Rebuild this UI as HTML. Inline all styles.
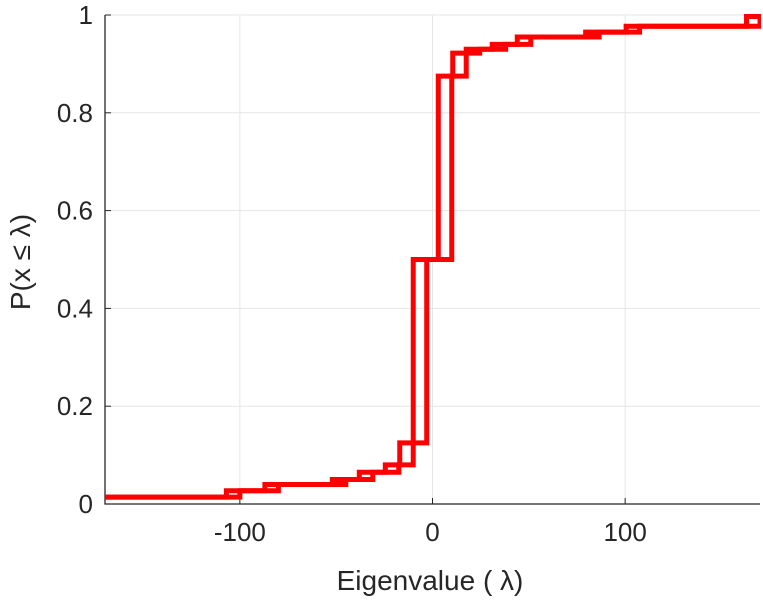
<!DOCTYPE html>
<html><head><meta charset="utf-8"><style>
html,body{margin:0;padding:0;background:#fff;}
svg{display:block;font-family:"Liberation Sans",sans-serif;}
</style></head><body>
<svg id="chart" width="763" height="600" viewBox="0 0 763 600" xmlns="http://www.w3.org/2000/svg">
<defs><clipPath id="pc"><rect x="105" y="10" width="656" height="496"/></clipPath></defs>
<g id="grid"></g>
<g id="axes"></g>
<g id="series" clip-path="url(#pc)"></g>
<text x="430" y="590" font-size="28" text-anchor="middle" fill="#262626">Eigenvalue (   λ)</text>
<text transform="translate(30,262) rotate(-90)" font-size="28" text-anchor="middle" fill="#262626">P(x  ≤  λ)</text>
</svg>
<script>
const jumps = [-107,-87,-52,-38,-24.5,-17,-10,3,10.5,17.5,31,44,79.5,100.5,163];
const levels = [0.027,0.04,0.05,0.065,0.08,0.125,0.5,0.875,0.922,0.93,0.94,0.955,0.965,0.977,0.997];
const startLevel = 0.014;
const shift = 7;
const xTicks = [-100,0,100];
const yTicks = [0,0.2,0.4,0.6,0.8,1];
const yTickLabels = ["0","0.2","0.4","0.6","0.8","1"];

const X0=105,X1=760,Y0=504,Y1=15,xmin=-170,xmax=170;
const sx=v=>X0+(v-xmin)/(xmax-xmin)*(X1-X0);
const sy=v=>Y0-(v)*(Y0-Y1);
const NS="http://www.w3.org/2000/svg";
function mk(tag,attrs,parent){const e=document.createElementNS(NS,tag);for(const k in attrs)e.setAttribute(k,attrs[k]);parent.appendChild(e);return e;}
const grid=document.getElementById('grid'),axes=document.getElementById('axes'),series=document.getElementById('series');
xTicks.forEach(t=>{
  const l=mk('line',{x1:sx(t),x2:sx(t),y1:Y1,y2:Y0,stroke:'#e6e6e6','stroke-width':1},grid);
  
  
  const tk=mk('line',{x1:sx(t),x2:sx(t),y1:Y0,y2:Y0-6,stroke:'#262626','stroke-width':1},axes);
  
  
  const tx=mk('text',{x:sx(t),y:Y0+37,'font-size':26,'text-anchor':'middle',fill:'#262626'},axes);
  tx.textContent=String(t);
  
  
});
yTicks.forEach((t,i)=>{
  const l=mk('line',{x1:X0,x2:X1,y1:sy(t),y2:sy(t),stroke:'#e6e6e6','stroke-width':1},grid);
  
  
  const tk=mk('line',{x1:X0,x2:X0+6,y1:sy(t),y2:sy(t),stroke:'#262626','stroke-width':1},axes);
  
  
  const tx=mk('text',{x:X0-12,y:sy(t)+9,'font-size':26,'text-anchor':'end',fill:'#262626'},axes);
  tx.textContent=yTickLabels[i];
  
  
});
const ax=mk('path',{d:`M${X0},${Y1}V${Y0}H${X1}`,fill:'none',stroke:'#262626','stroke-width':1.3},axes);


function stepPath(off){
  let d=`M${sx(xmin-20)},${sy(startLevel)}`;
  jumps.forEach((j,i)=>{d+=`H${sx(j+off)}V${sy(levels[i])}`;});
  d+=`H${sx(xmax+20)}`;return d;
}
[0,shift].forEach((off,k)=>{
  const p=mk('path',{d:stepPath(off),fill:'none',stroke:'#ff0000','stroke-width':5,'stroke-linejoin':'miter'},series);
  
  
});
</script>
</body></html>
